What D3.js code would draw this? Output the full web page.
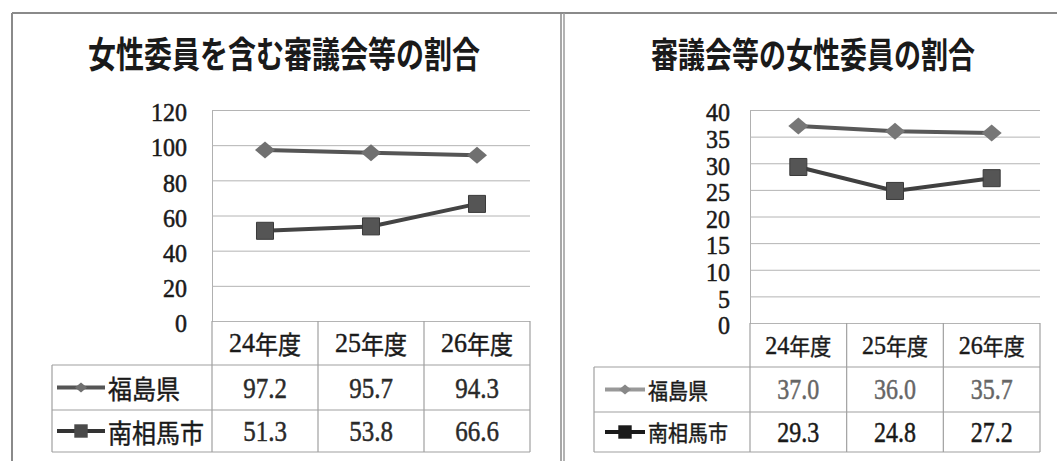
<html>
<head>
<meta charset="utf-8">
<style>
    body {
        margin: 0;
        background: #ffffff;
    }
    svg {
        display: block;
    }
</style>
<script src="https://d3js.org/d3.v7.min.js"></script>
</head>
<body>
<svg id="chart"></svg>
</body>
<script>

// ---- data ----
const years = ["24年度", "25年度", "26年度"]
const seriesNames = ["福島県", "南相馬市"]

// left: 女性委員を含む審議会等の割合
const inclFukushima = [97.2, 95.7, 94.3]
const inclMinami = [51.3, 53.8, 66.6]
const inclTicks = [0, 20, 40, 60, 80, 100, 120]

// right: 審議会等の女性委員の割合
const ratioFukushima = [37.0, 36.0, 35.7]
const ratioMinami = [29.3, 24.8, 27.2]
const ratioTicks = [0, 5, 10, 15, 20, 25, 30, 35, 40]

const W = 1057, H = 461
const svg = d3.select("#chart").attr("width", W).attr("height", H)

const serif = "'Liberation Serif'"
const gothic = "'Noto Sans CJK JP'"

// frame: top rule, left rule, divider between the two panels
svg.append("line").attr("x1", 12).attr("x2", W).attr("y1", 13).attr("y2", 13)
    .attr("stroke", "#8a8a8a").attr("stroke-width", 2)
svg.append("line").attr("x1", 12).attr("x2", 12).attr("y1", 13).attr("y2", H)
    .attr("stroke", "#8a8a8a").attr("stroke-width", 2)
svg.append("line").attr("x1", 561).attr("x2", 561).attr("y1", 13).attr("y2", H)
    .attr("stroke", "#8a8a8a").attr("stroke-width", 1.5)
svg.append("line").attr("x1", 564).attr("x2", 564).attr("y1", 13).attr("y2", H)
    .attr("stroke", "#9a9a9a").attr("stroke-width", 1.5)

function diamondPath(w, h) {
    return `M0,${-h/2}L${w/2},0L0,${h/2}L${-w/2},0Z`
}

// scanned text looks a little heavier, so give it a thin outline
function stretchedText(g, x, y, txt, size, sy, family, fill, anchor) {
    return g.append("text")
        .attr("transform", `translate(${x},${y}) scale(1,${sy})`)
        .attr("text-anchor", anchor || "middle")
        .attr("dominant-baseline", "central")
        .style("font-family", family)
        .style("font-size", size + "px")
        .attr("fill", fill)
        .attr("stroke", fill)
        .attr("stroke-width", 0.4)
        .text(txt)
}

function drawPanel(cfg) {
    let g = svg.append("g")

    // title
    g.append("text")
        .attr("transform", `translate(${cfg.titleX},68) scale(1,1.3)`)
        .attr("text-anchor", "middle")
        .style("font-family", gothic)
        .style("font-size", cfg.titleSize + "px")
        .style("font-weight", 700)
        .attr("fill", "#1a1a1a")
        .text(cfg.title)

    let x = d3.scaleBand().domain(years).range([cfg.left, cfg.right])
    let y = d3.scaleLinear().domain([0, d3.max(cfg.ticks)]).range([cfg.bottom, cfg.top])

    // y axis with gridlines
    let axis = g.append("g")
        .attr("transform", `translate(${cfg.left},0)`)
        .call(d3.axisLeft(y).tickValues(cfg.ticks)
            .tickSize(-(cfg.right - cfg.left)).tickPadding(cfg.labelPad))
    axis.attr("font-family", null)
    axis.select(".domain").attr("stroke", "#b0b0b0")
    axis.selectAll(".tick line").attr("stroke", "#b4b4b4")
    axis.selectAll(".tick text")
        .attr("dy", "0.34em")
        .attr("transform", "translate(0,2) scale(1,1.08)")
        .style("font-family", serif)
        .style("font-size", "24px")
        .attr("fill", "#1a1a1a")
        .attr("stroke", "#1a1a1a")
        .attr("stroke-width", 0.5)

    // data table grid
    let rowA = cfg.rows[0], rowB = cfg.rows[1], rowC = cfg.rows[2]
    let grid = g.append("g").attr("stroke", "#a0a0a0").attr("stroke-width", 1.2)
    years.forEach(d => {
        grid.append("line").attr("x1", x(d)).attr("x2", x(d))
            .attr("y1", cfg.bottom).attr("y2", rowC)
    })
    grid.append("line").attr("x1", cfg.right).attr("x2", cfg.right)
        .attr("y1", cfg.bottom).attr("y2", rowC)
    grid.append("line").attr("x1", cfg.legendLeft).attr("x2", cfg.legendLeft)
        .attr("y1", rowA).attr("y2", rowC)
    ;[rowA, rowB, rowC].forEach(r => {
        grid.append("line").attr("x1", cfg.legendLeft).attr("x2", cfg.right)
            .attr("y1", r).attr("y2", r)
    })

    // header row: digits in serif, 年度 in gothic
    years.forEach(d => {
        let t = stretchedText(g, x(d) + x.bandwidth() / 2, (cfg.bottom + rowA) / 2, "",
            cfg.headSize, 1.08, gothic, "#1a1a1a")
        t.append("tspan").style("font-family", serif)
            .style("font-size", (cfg.headSize + 3) + "px").text(d.slice(0, 2))
        t.append("tspan").text(d.slice(2))
    })

    // series lines, markers, table values, legend keys
    let line = d3.line()
        .x((d, i) => x(years[i]) + x.bandwidth() / 2)
        .y(d => y(d))

    cfg.series.forEach((s, k) => {
        let cy = k === 0 ? (rowA + rowB) / 2 : (rowB + rowC) / 2

        g.append("path").datum(s.values)
            .attr("d", line)
            .attr("fill", "none")
            .attr("stroke", s.lineColor)
            .attr("stroke-width", 4)

        g.selectAll(null).data(s.values).enter().append("path")
            .attr("transform", (d, i) => `translate(${x(years[i]) + x.bandwidth() / 2},${y(d)})`)
            .attr("d", k === 0 ? diamondPath(20, 17) : d3.symbol(d3.symbolSquare, 290)())
            .attr("fill", s.markerColor)
            .attr("stroke", k === 0 ? "none" : "#3a3a3a")

        s.values.forEach((v, i) => {
            stretchedText(g, x(years[i]) + x.bandwidth() / 2, cy, v.toFixed(1),
                cfg.valueSize, 1.2, serif, s.textColor)
        })

        // legend key
        g.append("line").attr("x1", cfg.keyX0).attr("x2", cfg.keyX1)
            .attr("y1", cy).attr("y2", cy)
            .attr("stroke", s.keyColor).attr("stroke-width", 4)
        g.append("path")
            .attr("transform", `translate(${(cfg.keyX0 + cfg.keyX1) / 2},${cy})`)
            .attr("d", k === 0 ? diamondPath(12, 10) : d3.symbol(d3.symbolSquare, 180)())
            .attr("fill", s.keyMarker)
        stretchedText(g, cfg.keyX1 + 3, cy, seriesNames[k], cfg.legendSize, 1.1,
            gothic, "#1a1a1a", "start")
    })
}

drawPanel({
    title: "女性委員を含む審議会等の割合",
    titleX: 284, titleSize: 28,
    left: 212, right: 530, top: 110, bottom: 321,
    ticks: inclTicks, labelPad: 25,
    rows: [365, 410, 452], legendLeft: 52,
    keyX0: 57, keyX1: 105,
    headSize: 23, valueSize: 25, legendSize: 24,
    series: [
        {values: inclFukushima, lineColor: "#555555", markerColor: "#707070",
         textColor: "#2a2a2a", keyColor: "#555555", keyMarker: "#707070"},
        {values: inclMinami, lineColor: "#444444", markerColor: "#555555",
         textColor: "#2a2a2a", keyColor: "#333333", keyMarker: "#4a4a4a"}
    ]
})

drawPanel({
    title: "審議会等の女性委員の割合",
    titleX: 813, titleSize: 27,
    left: 750, right: 1040, top: 110, bottom: 323,
    ticks: ratioTicks, labelPad: 20,
    rows: [367, 412, 452], legendLeft: 594,
    keyX0: 605, keyX1: 645,
    headSize: 21, valueSize: 24, legendSize: 20,
    series: [
        {values: ratioFukushima, lineColor: "#585858", markerColor: "#777777",
         textColor: "#666666", keyColor: "#999999", keyMarker: "#888888"},
        {values: ratioMinami, lineColor: "#404040", markerColor: "#555555",
         textColor: "#1a1a1a", keyColor: "#1a1a1a", keyMarker: "#1a1a1a"}
    ]
})

</script>
</html>
